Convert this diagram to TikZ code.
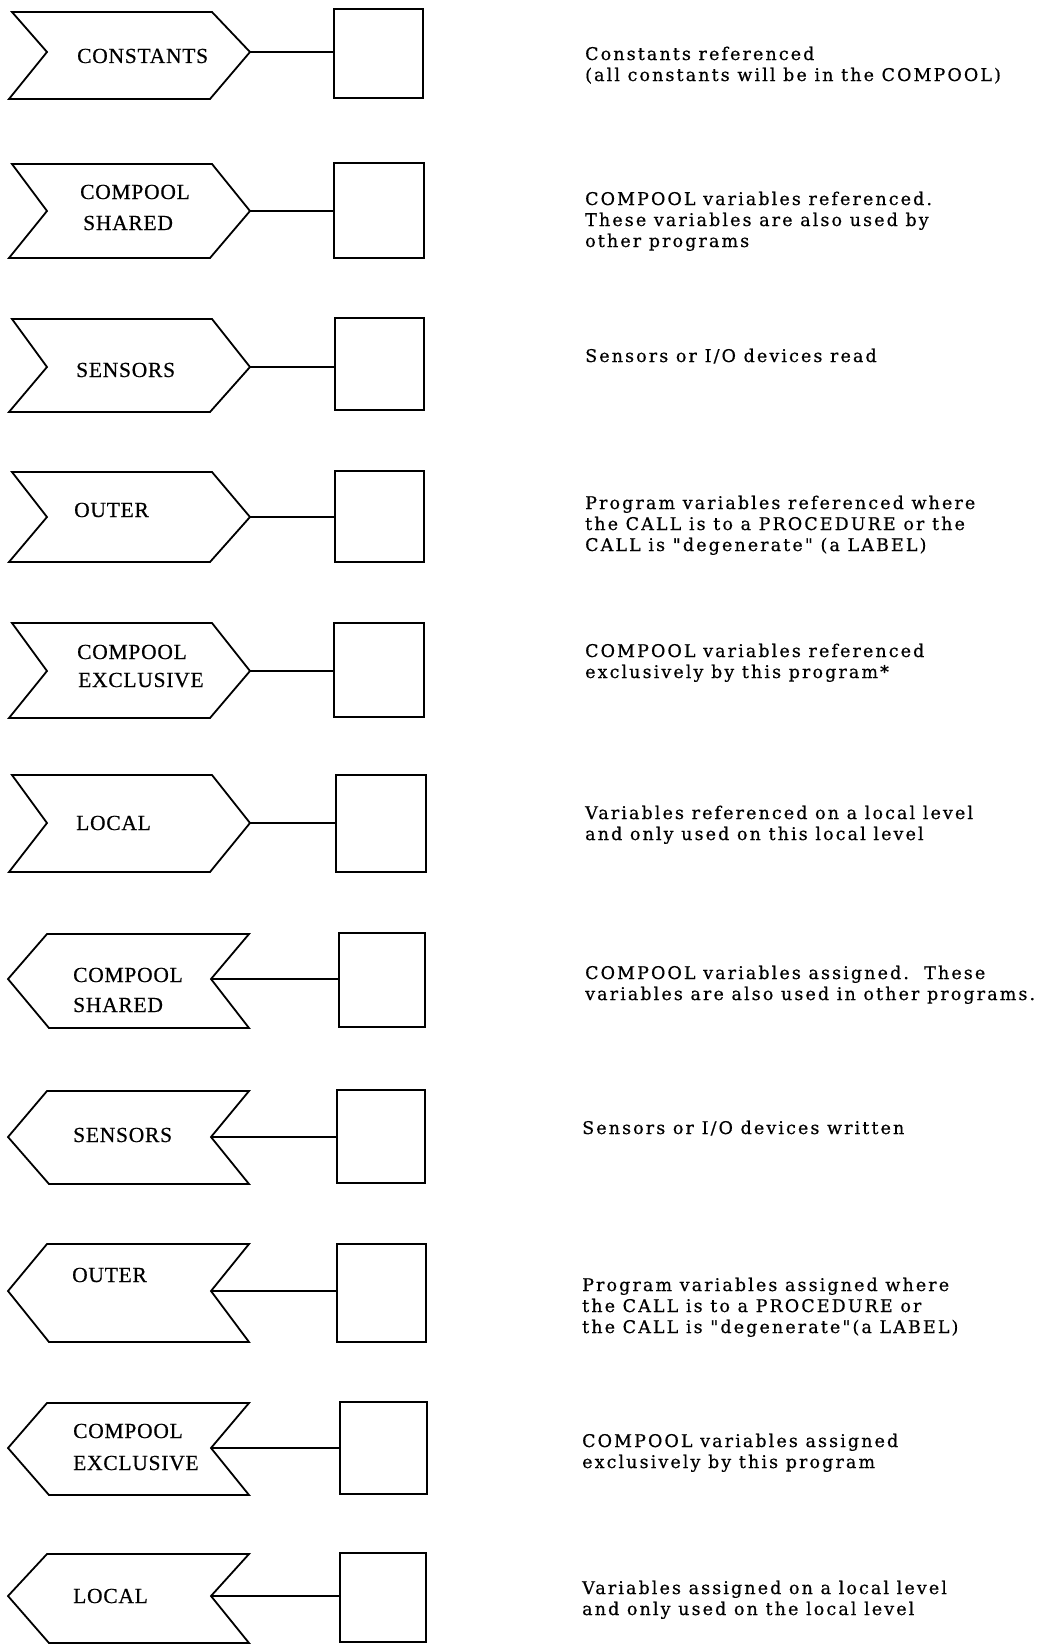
\documentclass[tikz,border=0pt]{standalone}
\usepackage{fontspec}
\setmainfont{Liberation Serif}
\newfontfamily\descfont[LetterSpace=12,FakeBold=0.6]{DejaVu Serif}
\newfontfamily\labelfont[LetterSpace=3.5,FakeBold=0.5]{Liberation Serif}

% right-pointing chevron: name, top y, tip y, bottom y
\newcommand\rightchev[4]{%
  \draw[outline] (12,#2) -- (212,#2) -- (250,#3) -- (210,#4) -- (9,#4) -- (47,#3) -- cycle;
  \coordinate (#1) at (250,#3);}
% left-pointing chevron: name, top y, notch y, bottom y
\newcommand\leftchev[4]{%
  \draw[outline] (47,#2) -- (249,#2) -- (211,#3) -- (249,#4) -- (49,#4) -- (8,#3) -- cycle;
  \coordinate (#1) at (211,#3);}
% square: name, left, right, top, bottom
\newcommand\sqbox[5]{%
  \node[box, minimum width={#3-#2}, minimum height={#5-#4}] (#1) at ({(#2+#3)/2},{(#4+#5)/2}) {};}
\newcommand\lines[1]{\begin{tabular}[t]{@{}l@{}}#1\end{tabular}}

\begin{document}
\begin{tikzpicture}[x=1pt,y=-1pt,
  outline/.style={draw=black, line width=1.8pt, line join=miter},
  box/.style={draw=black, line width=1.8pt, rectangle, inner sep=0pt},
  link/.style={draw=black, line width=1.5pt},
  tag/.style={anchor=base west, inner sep=0pt, font=\labelfont\fontsize{21.5}{30}\selectfont},
  desc/.style={anchor=base west, inner sep=0pt, font=\descfont\fontsize{17.5}{21}\selectfont}]

\fill[white] (0,0) rectangle (1044,1646);
\useasboundingbox (0,0) rectangle (1044,1646);

% ---- references (read) ----
\rightchev{t1}{12}{52}{99}
\sqbox{b1}{334}{423}{9}{98}
\draw[link] (t1) -- (t1 -| b1.west);
\node[tag] (l1) at (77,63) {CONSTANTS};
\node[desc] (d1) at (585,60) {\lines{Constants referenced\\(all constants will be in the COMPOOL)}};

\rightchev{t2}{164}{211}{258}
\sqbox{b2}{334}{424}{163}{258}
\draw[link] (t2) -- (t2 -| b2.west);
\node[tag] (l2a) at (80,199) {COMPOOL};
\node[tag] (l2b) at (83,230) {SHARED};
\node[desc] (d2) at (585,205) {\lines{COMPOOL variables referenced.\\These variables are also used by\\other programs}};

\rightchev{t3}{319}{367}{412}
\sqbox{b3}{335}{424}{318}{410}
\draw[link] (t3) -- (t3 -| b3.west);
\node[tag] (l3) at (76,377) {SENSORS};
\node[desc] (d3) at (585,362) {Sensors or I/O devices read};

\rightchev{t4}{472}{517}{562}
\sqbox{b4}{335}{424}{471}{562}
\draw[link] (t4) -- (t4 -| b4.west);
\node[tag] (l4) at (74,517) {OUTER};
\node[desc] (d4) at (585,509) {\lines{Program variables referenced where\\the CALL is to a PROCEDURE or the\\CALL is "degenerate" (a LABEL)}};

\rightchev{t5}{623}{671}{718}
\sqbox{b5}{334}{424}{623}{717}
\draw[link] (t5) -- (t5 -| b5.west);
\node[tag] (l5a) at (77,659) {COMPOOL};
\node[tag] (l5b) at (78,687) {EXCLUSIVE};
\node[desc] (d5) at (585,657) {\lines{COMPOOL variables referenced\\exclusively by this program*}};

\rightchev{t6}{775}{823}{872}
\sqbox{b6}{336}{426}{775}{872}
\draw[link] (t6) -- (t6 -| b6.west);
\node[tag] (l6) at (76,830) {LOCAL};
\node[desc] (d6) at (585,819) {\lines{Variables referenced on a local level\\and only used on this local level}};

% ---- assignments (written) ----
\leftchev{t7}{934}{979}{1028}
\sqbox{b7}{339}{425}{933}{1027}
\draw[link] (t7) -- (t7 -| b7.west);
\node[tag] (l7a) at (73,982) {COMPOOL};
\node[tag] (l7b) at (73,1012) {SHARED};
\node[desc] (d7) at (585,979) {\lines{COMPOOL variables assigned.\ \ These\\variables are also used in other programs.}};

\leftchev{t8}{1091}{1137}{1184}
\sqbox{b8}{337}{425}{1090}{1183}
\draw[link] (t8) -- (t8 -| b8.west);
\node[tag] (l8) at (73,1142) {SENSORS};
\node[desc] (d8) at (582,1134) {Sensors or I/O devices written};

\leftchev{t9}{1244}{1291}{1342}
\sqbox{b9}{337}{426}{1244}{1342}
\draw[link] (t9) -- (t9 -| b9.west);
\node[tag] (l9) at (72,1282) {OUTER};
\node[desc] (d9) at (582,1291) {\lines{Program variables assigned where\\the CALL is to a PROCEDURE or\\the CALL is "degenerate"(a LABEL)}};

\leftchev{t10}{1403}{1448}{1495}
\sqbox{b10}{340}{427}{1402}{1494}
\draw[link] (t10) -- (t10 -| b10.west);
\node[tag] (l10a) at (73,1438) {COMPOOL};
\node[tag] (l10b) at (73,1470) {EXCLUSIVE};
\node[desc] (d10) at (582,1447) {\lines{COMPOOL variables assigned\\exclusively by this program}};

\leftchev{t11}{1554}{1596}{1643}
\sqbox{b11}{340}{426}{1553}{1642}
\draw[link] (t11) -- (t11 -| b11.west);
\node[tag] (l11) at (73,1603) {LOCAL};
\node[desc] (d11) at (582,1594) {\lines{Variables assigned on a local level\\and only used on the local level}};

\end{tikzpicture}
\end{document}
